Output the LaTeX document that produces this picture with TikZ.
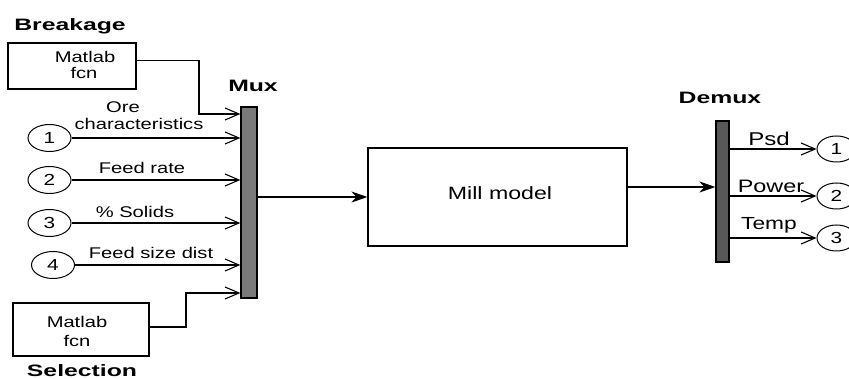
\documentclass[tikz,border=0pt]{standalone}
\usepackage{fontspec}
\setmainfont{Liberation Sans}
\newfontfamily\labfont[FakeStretch=1.3]{Liberation Sans}
\newfontfamily\bfont[FakeStretch=1.5]{Liberation Sans}
\usetikzlibrary{shapes.geometric,arrows.meta}
\definecolor{muxgray}{HTML}{7A7A7A}
\definecolor{demuxgray}{HTML}{585858}
\tikzset{
  lab/.style={inner sep=0pt, anchor=base, font=\labfont\fontsize{15.5}{15.5}\selectfont},
  blab/.style={inner sep=0pt, anchor=base, font=\bfont\bfseries\fontsize{16.5}{16.5}\selectfont},
  port/.style={draw, ellipse, minimum width=43pt, minimum height=27pt, inner sep=0pt, line width=1pt,
    font=\labfont\fontsize{16}{16}\selectfont},
  rport/.style={port, minimum width=39pt, minimum height=26pt},
  fbox/.style={draw, rectangle, line width=1.2pt, inner sep=0pt},
  bar/.style={draw, rectangle, line width=1.2pt, inner sep=0pt},
  arr/.style={line width=1.1pt, -{Straight Barb[length=14pt,width=12pt,line width=1.1pt]}},
  sarr/.style={line width=1.1pt, -{Stealth[length=16pt,width=11pt,inset=5pt]}},
}
\begin{document}
\begin{tikzpicture}[x=1pt,y=-1pt]
\useasboundingbox (0,0) rectangle (849,379);
% blocks
\node[fbox, minimum width=128pt, minimum height=46pt] (brk) at (72,66) {};
\node[lab] (brkt1) at (85,63) {Matlab};
\node[lab] (brkt2) at (84,79) {fcn};
\node[fbox, minimum width=136pt, minimum height=53pt] (sel) at (81,329.5) {};
\node[lab] (selt1) at (77,328) {Matlab};
\node[lab] (selt2) at (77,347) {fcn};
\node[bar, fill=muxgray, minimum width=16pt, minimum height=191pt] (mux) at (249,202.5) {};
\node[bar, fill=demuxgray, minimum width=13pt, minimum height=141pt] (demux) at (722.5,191.5) {};
\node[fbox, minimum width=259pt, minimum height=98pt] (mill) at (497.5,197) {};
\node[lab, font=\labfont\fontsize{17.8}{17.8}\selectfont] (millt) at (500,200) {Mill model};
% titles
\node[blab] (tbrk) at (70,31) {Breakage};
\node[blab] (tsel) at (82,377) {Selection};
\node[blab] (tmux) at (253,92) {Mux};
\node[blab] (tdemux) at (720,104) {Demux};
% inports
\node[port] (in1) at (49.5,138) {1};
\node[port] (in2) at (49.5,180) {2};
\node[port] (in3) at (49.5,223) {3};
\node[port] (in4) at (53,265) {4};
% outports
\node[rport] (o1) at (836.5,149) {1};
\node[rport] (o2) at (836.5,196) {2};
\node[rport] (o3) at (836.5,238) {3};
% labels
\node[lab] (l1a) at (123,113) {Ore};
\node[lab] (l1b) at (139,130) {characteristics};
\node[lab] (l2) at (142,174) {Feed rate};
\node[lab] (l3) at (135,218) {\% Solids};
\node[lab] (l4) at (151,259) {Feed size dist};
\node[lab, font=\labfont\fontsize{18.5}{18.5}\selectfont] (lo1) at (769,146) {Psd};
\node[lab, font=\labfont\fontsize{18}{18}\selectfont] (lo2) at (771,193) {Power};
\node[lab, font=\labfont\fontsize{17.5}{17.5}\selectfont] (lo3) at (769,230) {Temp};
% connectors
\coordinate (bk1) at (199,60.7);
\coordinate (bk2) at (199,114);
\draw[arr] ([yshift=5.3pt]brk.east) -- (bk1) -- (bk2) -- (mux.west |- bk2);
\coordinate (sl1) at (186,327);
\coordinate (sl2) at (186,293);
\draw[arr] ([yshift=2.5pt]sel.east) -- (sl1) -- (sl2) -- (mux.west |- sl2);
\draw[arr] (in1.east) -- (in1.east -| mux.west);
\draw[arr] (in2.east) -- (in2.east -| mux.west);
\draw[arr] (in3.east) -- (in3.east -| mux.west);
\draw[arr] (in4.east) -- (in4.east -| mux.west);
\coordinate (mo) at (mux.east |- mill.west);
\draw[sarr] (mo) -- (mill.west);
\coordinate (mi) at ([yshift=10pt]mill.east);
\draw[sarr] (mi) -- (mi -| demux.west);
\draw[arr] (demux.east |- o1.west) -- (o1.west);
\draw[arr] (demux.east |- o2.west) -- (o2.west);
\draw[arr] (demux.east |- o3.west) -- (o3.west);
\end{tikzpicture}
\end{document}
